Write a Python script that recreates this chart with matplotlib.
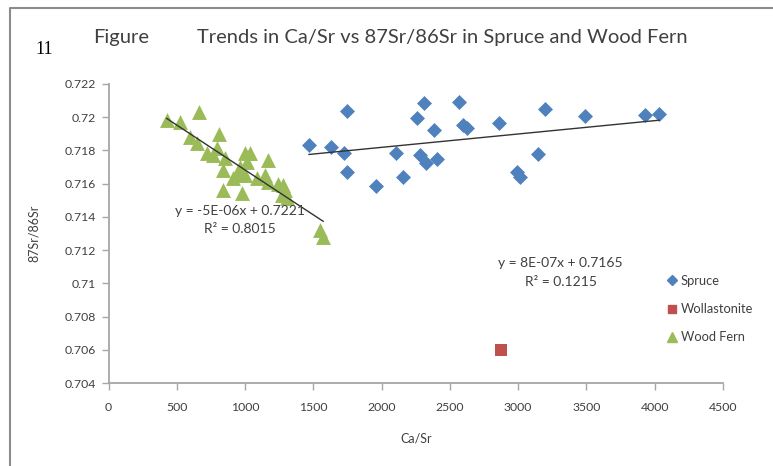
import numpy as np
import matplotlib
matplotlib.use("Agg")
import matplotlib.pyplot as plt
from matplotlib.lines import Line2D

plt.rcParams['font.family'] = ['Lato', 'DejaVu Sans']

# ---- data ----
fern_x = [426, 523, 665, 597, 646, 811, 723, 792, 767, 853, 836, 914, 836, 975, 999,
          1036, 1012, 950, 999, 963, 1170, 1085, 1146, 1170, 1243, 1280, 1292, 1304,
          1268, 1548, 1572]
fern_y = [0.71983, 0.71973, 0.72033, 0.71883, 0.71843, 0.71897, 0.71783, 0.71813,
          0.71772, 0.71752, 0.71682, 0.71632, 0.71561, 0.71542, 0.71783, 0.71783,
          0.71732, 0.71652, 0.71652, 0.71702, 0.71742, 0.71632, 0.71652, 0.71612,
          0.71596, 0.71592, 0.71561, 0.71511, 0.71531, 0.71321, 0.71280]
spruce_x = [1468, 1627, 1748, 1726, 1748, 1956, 2105, 2158, 2256, 2312, 2280, 2324,
            2383, 2402, 2566, 2597, 2622, 2861, 3195, 3146, 2988, 3015, 3488, 3932, 4032]
spruce_y = [0.71833, 0.71819, 0.72037, 0.71783, 0.71672, 0.71586, 0.71783, 0.71638,
            0.71997, 0.72084, 0.71772, 0.71722, 0.71923, 0.71746, 0.72090, 0.71953,
            0.71933, 0.71963, 0.72048, 0.71777, 0.71672, 0.71638, 0.72007, 0.72013,
            0.72017]
woll_x = [2871]
woll_y = [0.70598]

x_ticks = [0, 500, 1000, 1500, 2000, 2500, 3000, 3500, 4000, 4500]
y_ticks = [0.704, 0.706, 0.708, 0.71, 0.712, 0.714, 0.716, 0.718, 0.72, 0.722]
y_ticklabels = ['0.704', '0.706', '0.708', '0.71', '0.712', '0.714', '0.716', '0.718', '0.72', '0.722']

series_names = ['Spruce', 'Wollastonite', 'Wood Fern']
fern_eq = ['y = -5E-06x + 0.7221', 'R² = 0.8015']
spruce_eq = ['y = 8E-07x + 0.7165', 'R² = 0.1215']

BLUE = '#4F81BD'
RED = '#C0504D'
GREEN = '#9BBB59'
AXC = '#A6A6A6'
TXT = '#404040'

W, H = 773, 466
fig = plt.figure(figsize=(W / 100, H / 100), dpi=100)
ax = fig.add_axes([108.5 / W, 1 - 383 / H, (723 - 108.5) / W, (383 - 84) / H])

# trendlines
for xs, ys in [(fern_x, fern_y), (spruce_x, spruce_y)]:
    xs = np.array(xs, float); ys = np.array(ys, float)
    m, b = np.polyfit(xs, ys, 1)
    xx = np.array([xs.min(), xs.max()])
    ax.plot(xx, m * xx + b, color='#333333', lw=1.0, zorder=3)

ax.scatter(spruce_x, spruce_y, marker='D', s=58, color=BLUE, linewidths=0, zorder=2)
ax.scatter(woll_x, woll_y, marker='s', s=78, color=RED, linewidths=0, zorder=2)
ax.scatter(fern_x, fern_y, marker='^', s=115, color=GREEN, linewidths=0, zorder=2)

ax.set_xlim(0, 4500)
ax.set_ylim(0.704, 0.722)
ax.set_xticks(x_ticks)
ax.set_xticklabels([str(v) for v in x_ticks])
ax.set_yticks(y_ticks)
ax.set_yticklabels(y_ticklabels)
for s in ['top', 'right']:
    ax.spines[s].set_visible(False)
for s in ['left', 'bottom']:
    ax.spines[s].set_color(AXC)
    ax.spines[s].set_linewidth(1.3)
ax.tick_params(axis='both', colors=AXC, labelcolor=TXT, labelsize=8.8, length=5, width=1)
ax.tick_params(axis='x', pad=9)
ax.tick_params(axis='y', pad=4)

ax.set_xlabel('Ca/Sr', fontsize=9, color=TXT, labelpad=14)
ax.set_ylabel('87Sr/86Sr', fontsize=9, color=TXT, labelpad=18)

# equation labels
fig.text(240 / W, 1 - 211 / H, fern_eq[0], fontsize=10, color=TXT, ha='center', va='center')
fig.text(240 / W, 1 - 229 / H, fern_eq[1], fontsize=10, color=TXT, ha='center', va='center')
fig.text(560 / W, 1 - 263 / H, spruce_eq[0], fontsize=10, color=TXT, ha='center', va='center')
fig.text(561 / W, 1 - 282 / H, spruce_eq[1], fontsize=10, color=TXT, ha='center', va='center')

# legend
handles = [Line2D([], [], marker='D', ls='', color=BLUE, ms=5),
           Line2D([], [], marker='s', ls='', color=RED, ms=6),
           Line2D([], [], marker='^', ls='', color=GREEN, ms=6.5)]
leg = fig.legend(handles, series_names, loc='upper left',
                 bbox_to_anchor=(667 / W, 1 - 275 / H), frameon=False,
                 fontsize=9.3, handlelength=0.8, handletextpad=0.25,
                 labelspacing=1.25, borderaxespad=0, borderpad=0)
for t in leg.get_texts():
    t.set_color(TXT)

# title
fig.text(93 / W, 1 - 37 / H, 'Figure', fontsize=14.5, color=TXT, va='center')
fig.text(197 / W, 1 - 37 / H, 'Trends in Ca/Sr vs 87Sr/86Sr in Spruce and Wood Fern',
         fontsize=14.5, color=TXT, va='center')
fig.text(35 / W, 1 - 50 / H, '11', fontsize=13, color='black', va='center',
         family=['Liberation Serif', 'DejaVu Serif'])

# outer frame (left and top)
fig.add_artist(Line2D([10 / W, 10 / W, 1.0], [0.0, 1 - 8 / H, 1 - 8 / H],
                      color='#8C8C8C', lw=1.5, transform=fig.transFigure))

fig.savefig('out.png', dpi=100)
